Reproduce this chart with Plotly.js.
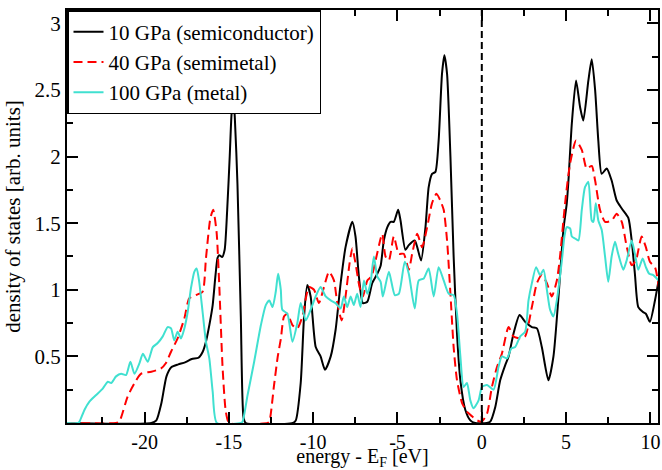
<!DOCTYPE html>
<html>
<head>
<meta charset="utf-8">
<script src="https://cdn.plot.ly/plotly-3.0.1.min.js"></script>
<style>html,body{margin:0;padding:0;background:#fff;}#chart{width:662px;height:470px;}</style>
</head>
<body>
<div id="chart"></div>
<script>
// Series names
const seriesNames = ["10 GPa (semiconductor)", "40 GPa (semimetal)", "100 GPa (metal)"];
const xTitle = "energy - E<sub>F</sub> [eV]";
const yTitle = "density of states [arb. units]";

// 10 GPa (semiconductor)
const e10 = [-24.6,-19.6,-19.3,-19.0,-18.7,-18.4,-18.0,-17.6,-17.2,-16.8,-16.55,-16.36,-16.15,-15.96,-15.8,-15.67,-15.57,-15.4,-15.25,-15.1,-14.95,-14.85,-14.75,-14.65,-14.49,-14.29,-14.13,-14.0,
  -11.2,-11.03,-10.74,-10.54,-10.35,-10.15,-9.85,-9.56,-9.30,-8.96,-8.67,-8.37,-8.08,-7.68,-7.49,-7.29,-7.05,-6.79,-6.50,-6.20,-6.0,-5.81,-5.6,-5.41,-5.22,-4.96,-4.82,-4.53,-4.33,-3.98,-3.83,-3.60,-3.34,-3.15,-2.95,-2.75,-2.56,-2.36,-2.22,-2.06,-1.86,-1.67,-1.47,-1.27,-0.98,-0.68,-0.4,
  0.3,0.50,0.80,1.09,1.39,1.59,1.88,2.24,2.57,2.97,3.27,3.56,3.95,4.25,4.55,4.84,5.04,5.14,5.34,5.59,5.83,6.02,6.32,6.52,6.72,6.91,7.11,7.41,7.70,8.0,8.30,8.69,8.89,9.08,9.28,9.54,9.73,9.97,10.27,10.5];
const d10 = [0,0,0.02,0.15,0.35,0.42,0.44,0.455,0.48,0.49,0.535,0.61,0.74,0.885,1.10,1.24,1.26,1.245,1.30,1.6,2.0,2.3,2.45,2.3,1.79,0.79,0.04,0,
  0,0.02,0.30,0.80,1.035,0.95,0.57,0.50,0.40,0.50,0.70,1.05,1.32,1.51,1.40,1.10,0.90,0.91,1.05,1.12,1.18,1.37,1.47,1.51,1.51,1.60,1.52,1.30,1.335,1.37,1.32,1.22,1.47,1.77,1.87,1.885,2.12,2.62,2.76,2.62,2.0,1.25,0.67,0.32,0.10,0.02,0,
  0,0.01,0.12,0.32,0.435,0.50,0.67,0.81,0.76,0.72,0.71,0.57,0.32,0.50,0.95,1.45,1.65,1.82,2.25,2.57,2.37,2.27,2.57,2.73,2.50,2.12,1.87,1.91,1.82,1.67,1.61,1.54,1.37,1.12,0.87,0.835,0.82,0.76,0.92,1.08];

// 40 GPa (semimetal)
const e40 = [-24.6,-21.7,-21.5,-21.0,-20.5,-20.2,-19.6,-19.02,-18.73,-18.43,-18.04,-17.64,-17.35,-16.95,-16.56,-16.36,-16.10,-15.93,-15.73,-15.57,-15.37,-15.18,-14.98,
  -12.7,-12.6,-12.32,-12.1,-11.92,-11.73,-11.53,-11.23,-10.94,-10.64,-10.25,-9.95,-9.66,-9.36,-9.06,-8.77,-8.57,-8.31,-8.08,-7.84,-7.68,-7.49,-7.25,-7.05,-6.79,-6.54,-6.30,-6.0,-5.9,-5.71,-5.51,-5.22,-4.92,-4.63,-4.33,-4.13,-3.83,-3.54,-3.24,-2.95,-2.69,-2.46,-2.26,-2.06,-1.86,-1.67,-1.47,-1.17,-0.88,-0.58,-0.28,0.0,
  0.31,0.60,0.90,1.19,1.59,1.88,2.28,2.57,2.97,3.27,3.56,3.86,4.15,4.45,4.64,4.84,5.0,5.24,5.59,5.93,6.22,6.52,6.72,7.01,7.31,7.70,8.0,8.30,8.60,8.89,9.14,9.48,9.73,9.97,10.27,10.5];
const d40 = [0,0,0.01,0.2,0.32,0.37,0.385,0.41,0.45,0.535,0.635,0.785,0.935,0.96,0.985,1.235,1.535,1.60,1.435,1.035,0.41,0.085,0,
  0,0.01,0.285,0.5,0.63,0.80,0.82,0.735,0.71,0.80,1.02,1.0,0.90,1.02,1.135,1.07,0.90,0.77,0.95,1.20,1.31,1.20,1.02,0.95,1.07,1.10,1.22,1.385,1.42,1.25,1.22,1.40,1.27,1.27,1.15,1.27,1.42,1.32,1.47,1.65,1.72,1.67,1.60,1.37,0.97,0.57,0.32,0.15,0.085,0.05,0.02,0.01,
  0.07,0.27,0.42,0.52,0.72,0.65,0.635,0.65,0.87,1.05,1.11,1.05,0.95,1.07,1.25,1.52,1.72,1.95,2.12,2.05,1.91,1.93,1.82,1.60,1.51,1.52,1.57,1.51,1.32,1.185,1.22,1.40,1.32,1.21,1.17,1.02];

// 100 GPa (metal)
const e100 = [-24.6,-23.95,-23.86,-23.56,-23.27,-22.87,-22.47,-22.18,-21.98,-21.69,-21.39,-21.1,-20.84,-20.6,-20.3,-20.1,-19.81,-19.51,-19.22,-18.92,-18.63,-18.43,-18.24,-18.04,-17.84,-17.64,-17.44,-17.25,-17.05,-16.91,-16.76,-16.56,-16.36,-16.16,-15.96,-15.71,
  -14.3,-14.19,-13.89,-13.5,-13.1,-12.81,-12.6,-12.41,-12.22,-12.08,-11.92,-11.83,-11.53,-11.23,-10.94,-10.74,-10.44,-10.15,-9.85,-9.56,-9.26,-8.96,-8.67,-8.37,-8.18,-7.98,-7.78,-7.59,-7.39,-7.19,-6.99,-6.79,-6.60,-6.40,-6.20,-6.0,-5.87,-5.51,-5.16,-4.92,-4.57,-4.33,-3.98,-3.74,-3.44,-3.15,-2.85,-2.56,-2.26,-1.96,-1.67,-1.47,-1.27,-1.08,-0.88,-0.68,-0.49,-0.19,0.01,
  0.31,0.70,0.99,1.19,1.49,1.75,1.98,2.28,2.57,2.77,2.97,3.22,3.46,3.66,3.86,4.05,4.25,4.45,4.75,4.9,5.04,5.24,5.34,5.53,5.73,5.93,6.12,6.32,6.52,6.62,6.76,6.91,7.11,7.31,7.50,7.70,7.90,8.09,8.39,8.59,8.89,9.08,9.28,9.54,9.73,9.93,10.17,10.37,10.5];
const d100 = [0,0,0.01,0.10,0.16,0.21,0.26,0.31,0.30,0.35,0.37,0.36,0.46,0.37,0.45,0.52,0.46,0.57,0.60,0.65,0.72,0.71,0.62,0.685,0.635,0.71,0.835,1.01,1.135,1.16,1.06,0.835,0.61,0.485,0.235,0,
  0,0.01,0.21,0.46,0.735,0.885,0.92,0.87,0.985,1.12,1.0,0.85,0.82,0.61,0.75,0.90,0.77,0.85,0.95,1.02,0.95,0.92,0.90,0.86,0.95,0.87,0.95,0.885,0.97,0.87,1.07,0.97,1.05,1.25,1.10,1.06,0.95,1.135,0.96,0.97,1.21,1.12,0.86,1.07,1.085,1.16,0.95,1.17,1.07,0.97,0.96,0.82,0.50,0.27,0.30,0.17,0.11,0.17,0.27,
  0.285,0.25,0.42,0.50,0.485,0.56,0.57,0.65,0.685,0.92,1.05,1.17,1.11,1.15,1.0,0.85,0.80,0.92,1.22,1.40,1.47,1.46,1.40,1.385,1.37,1.60,1.77,1.81,1.52,1.51,1.65,1.52,1.45,1.25,1.06,1.25,1.36,1.27,1.15,1.22,1.37,1.27,1.15,1.235,1.17,1.12,1.11,1.085,1.07];

// Axis ticks
const xTicks = [-20, -15, -10, -5, 0, 5, 10];
const yTicks = [0.5, 1, 1.5, 2, 2.5, 3];
const yTickText = ["0.5", "1", "1.5", "2", "2.5", "3"];

const serif = "Liberation Serif, Times New Roman, serif";

const traces = [
  {x: e10, y: d10, name: seriesNames[0], mode: "lines",
   line: {color: "#000000", width: 2, shape: "spline", smoothing: 0.6}},
  {x: e40, y: d40, name: seriesNames[1], mode: "lines",
   line: {color: "#ff0000", width: 2, dash: "9px,5px", shape: "spline", smoothing: 0.6}},
  {x: e100, y: d100, name: seriesNames[2], mode: "lines",
   line: {color: "#40e0d0", width: 2, shape: "spline", smoothing: 0.6}}
];

const layout = {
  width: 662, height: 470,
  margin: {l: 67, r: 4, t: 10, b: 47},
  paper_bgcolor: "#fff", plot_bgcolor: "#fff",
  font: {family: serif, color: "#000"},
  showlegend: true,
  legend: {x: 0, y: 1, xanchor: "left", yanchor: "top",
    bgcolor: "#fff", bordercolor: "#000", borderwidth: 1.5,
    font: {family: serif, size: 21, color: "#000"}, tracegroupgap: 0},
  xaxis: {
    range: [-24.6, 10.45], tickvals: xTicks, ticktext: xTicks.map(String),
    ticks: "inside", ticklen: 11, tickwidth: 2, tickcolor: "#000",
    minor: {dtick: 2.5, tick0: 0, ticks: "inside", ticklen: 6, tickwidth: 2, tickcolor: "#000"},
    showline: true, linecolor: "#000", linewidth: 2, mirror: "ticks",
    showgrid: false, zeroline: false,
    tickfont: {family: serif, size: 20, color: "#000"},
    title: {text: xTitle, font: {family: serif, size: 20, color: "#000"}, standoff: 0}
  },
  yaxis: {
    range: [0, 3.1], tickvals: yTicks, ticktext: yTickText,
    ticks: "inside", ticklen: 11, tickwidth: 2, tickcolor: "#000",
    minor: {dtick: 0.25, tick0: 0, ticks: "inside", ticklen: 6, tickwidth: 2, tickcolor: "#000"},
    showline: true, linecolor: "#000", linewidth: 2, mirror: "ticks",
    showgrid: false, zeroline: false,
    tickfont: {family: serif, size: 21, color: "#000"},
    title: {text: yTitle, font: {family: serif, size: 21, color: "#000"}, standoff: 8}
  },
  shapes: [{type: "line", xref: "x", yref: "paper", x0: 0, x1: 0, y0: 0, y1: 1,
    line: {color: "#000", width: 2, dash: "7px,4px"}, layer: "above"}]
};

Plotly.newPlot("chart", traces, layout, {displayModeBar: false, staticPlot: true});
</script>
</body>
</html>
